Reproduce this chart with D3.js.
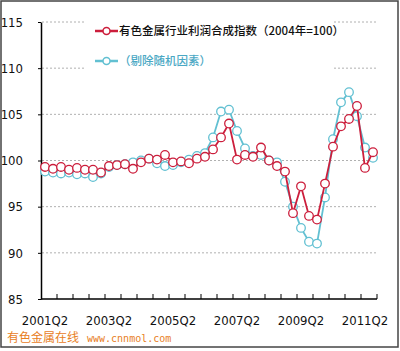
<!DOCTYPE html>
<html>
<head>
<meta charset="utf-8">
<script src="https://cdn.jsdelivr.net/npm/d3@7"></script>
<style>
  body { margin: 0; background: #fff; }
  svg { display: block; }
  .num { font-family: "Liberation Sans Narrow", "DejaVu Sans Condensed", "Liberation Sans", sans-serif; font-size: 13px; fill: #111; }
</style>
</head>
<body>
<svg id="drawing_region"></svg>
<script>
// quarters 2001Q2 .. 2011Q3
const categories = [
    '2001Q2','2001Q3','2001Q4','2002Q1','2002Q2','2002Q3','2002Q4','2003Q1',
    '2003Q2','2003Q3','2003Q4','2004Q1','2004Q2','2004Q3','2004Q4','2005Q1',
    '2005Q2','2005Q3','2005Q4','2006Q1','2006Q2','2006Q3','2006Q4','2007Q1',
    '2007Q2','2007Q3','2007Q4','2008Q1','2008Q2','2008Q3','2008Q4','2009Q1',
    '2009Q2','2009Q3','2009Q4','2010Q1','2010Q2','2010Q3','2010Q4','2011Q1',
    '2011Q2','2011Q3'
];
const profitIndex = [
    99.3, 99.1, 99.3, 99.0, 99.2, 99.0, 99.0, 98.7, 99.4, 99.5, 99.6, 99.1,
    99.8, 100.2, 100.1, 100.6, 99.8, 99.9, 99.7, 100.2, 100.4, 101.2, 102.5, 104.0,
    100.1, 100.6, 100.4, 101.4, 100.0, 99.4, 98.8, 94.3, 97.2, 94.0, 93.6, 97.5,
    101.5, 103.7, 104.5, 105.9, 99.2, 100.9
];
const adjustedIndex = [
    98.8, 98.7, 98.6, 98.7, 98.5, 98.6, 98.2, 98.6, 99.3, 99.5, 99.6, 99.8,
    100.0, 100.2, 99.7, 99.4, 99.5, 99.8, 100.1, 100.5, 100.8, 102.5, 105.3, 105.5,
    103.2, 101.3, 100.5, 100.6, 100.0, 99.8, 97.7, 95.0, 92.7, 91.2, 91.0, 96.0,
    102.3, 106.3, 107.4, 104.8, 101.4, 100.3
];
const yTicks = [85, 90, 95, 100, 105, 110, 115];
const xTickLabels = ['2001Q2', '2003Q2', '2005Q2', '2007Q2', '2009Q2', '2011Q2'];
const seriesNames = ['有色金属行业利润合成指数（2004年=100）', '（剔除随机因素）'];

const width = 400, height = 351;
const margin = {top: 22, right: 23, bottom: 52, left: 41};
const innerW = width - margin.left - margin.right;
const innerH = height - margin.top - margin.bottom;

const svg = d3.select('#drawing_region')
    .attr('width', width)
    .attr('height', height);

const chart = svg.append('g')
    .attr('transform', `translate(${margin.left}, ${margin.top})`);

const x = d3.scaleBand().domain(categories).range([0, innerW]);
const y = d3.scaleLinear().domain([85, 115]).range([innerH, 0]);
const bw = x.bandwidth();

// gridlines
chart.append('g')
    .selectAll('line')
    .data(yTicks.filter(d => d > 85))
    .join('line')
    .attr('x1', 1).attr('x2', innerW)
    .attr('y1', d => y(d)).attr('y2', d => y(d))
    .attr('stroke', '#b0b0b0')
    .attr('stroke-width', 1)
    .attr('stroke-dasharray', '2,2');

// y axis
const yaxis = chart.append('g')
    .call(d3.axisLeft(y).tickValues(yTicks).tickSize(3).tickPadding(15).tickSizeOuter(0));
yaxis.select('.domain').attr('stroke', '#000').attr('stroke-width', 1.5);
yaxis.selectAll('.tick line').attr('stroke', '#000');
yaxis.selectAll('text').attr('class', 'num').attr('font-family', null).attr('font-size', null);

// x axis tick marks, between every two quarters
const xticks = chart.append('g')
    .attr('transform', `translate(${bw / 2}, ${innerH})`)
    .call(d3.axisBottom(x)
        .tickValues(categories.filter((d, i) => i % 2 === 1))
        .tickSize(-5).tickSizeOuter(0).tickFormat(''));
xticks.select('.domain').remove();
xticks.selectAll('.tick line').attr('stroke', '#000');

chart.append('line')
    .attr('x1', 0).attr('x2', innerW)
    .attr('y1', innerH).attr('y2', innerH)
    .attr('stroke', '#000').attr('stroke-width', 1.5);

// x axis labels
const xlabels = chart.append('g')
    .attr('transform', `translate(0, ${innerH})`)
    .call(d3.axisBottom(x).tickValues(xTickLabels).tickSize(0).tickPadding(17));
xlabels.select('.domain').remove();
xlabels.selectAll('text').attr('class', 'num').attr('font-family', null).attr('font-size', null);

// series
const series = [
    {name: seriesNames[1], values: adjustedIndex, color: '#62c0d2'},
    {name: seriesNames[0], values: profitIndex, color: '#cc1e3c'}
];

const line = d3.line()
    .x((d, i) => x(categories[i]) + bw / 2)
    .y(d => y(d));

series.forEach(s => {
    chart.append('path')
        .datum(s.values)
        .attr('fill', 'none')
        .attr('stroke', s.color)
        .attr('stroke-width', 1.8)
        .attr('d', line);
    chart.append('g')
        .selectAll('circle')
        .data(s.values)
        .join('circle')
        .attr('cx', (d, i) => x(categories[i]) + bw / 2)
        .attr('cy', d => y(d))
        .attr('r', 4.3)
        .attr('fill', '#fff')
        .attr('stroke', s.color)
        .attr('stroke-width', 1.3);
});

// legend
const legend = svg.append('g');
legend.append('rect')
    .attr('x', 86).attr('y', 14).attr('width', 248).attr('height', 64)
    .attr('fill', '#fff');

const legendItems = [
    {label: seriesNames[0], color: '#cc1e3c', text: '#111', y: 31},
    {label: seriesNames[1], color: '#62c0d2', text: '#4aa8c4', y: 61}
];
legendItems.forEach(d => {
    legend.append('line')
        .attr('x1', 95).attr('x2', 118)
        .attr('y1', d.y).attr('y2', d.y)
        .attr('stroke', d.color).attr('stroke-width', 2.5);
    legend.append('circle')
        .attr('cx', 106.5).attr('cy', d.y).attr('r', 3.5)
        .attr('fill', '#fff').attr('stroke', d.color).attr('stroke-width', 1.5);
    legend.append('text')
        .attr('x', 119).attr('y', d.y)
        .attr('dy', '0.35em')
        .attr('font-family', '"Noto Sans CJK SC", sans-serif')
        .attr('font-size', 11.5)
        .attr('font-weight', 500)
        .attr('fill', d.text)
        .text(d.label);
});

// watermark
const mark = svg.append('text')
    .attr('x', 7).attr('y', 336)
    .attr('dy', '0.35em')
    .attr('fill', '#e8801e');
mark.append('tspan')
    .attr('font-family', '"Noto Sans CJK SC", sans-serif')
    .attr('font-size', 12)
    .text('有色金属在线');
mark.append('tspan')
    .attr('x', 87)
    .attr('font-family', '"DejaVu Sans Mono", monospace')
    .attr('font-size', 10)
    .text('www.cnnmol.com');

// frame
svg.append('rect')
    .attr('x', 1).attr('y', 1).attr('width', 397).attr('height', 346)
    .attr('fill', 'none').attr('stroke', '#444').attr('stroke-width', 1.5);
</script>
</body>
</html>
